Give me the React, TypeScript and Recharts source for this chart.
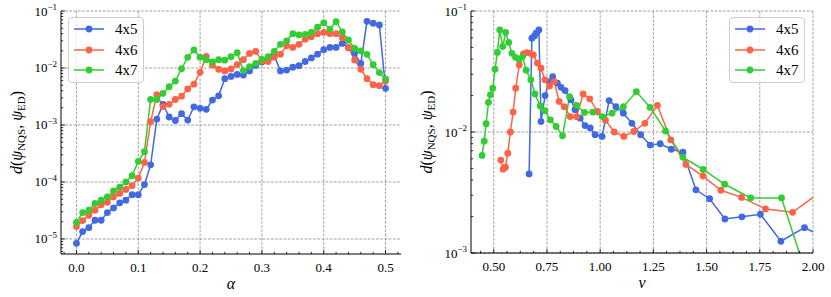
import React from 'react';
import { LineChart, Line, XAxis, YAxis, CartesianGrid, Legend } from 'recharts';

const FONT = "'Liberation Serif', 'DejaVu Serif', serif";
const SERIES = ['4x5', '4x6', '4x7'];
const COLORS = ['#4169e1', '#ff6347', '#32cd32'];

// left panel: distance vs alpha
const ALPHA = [
    0, 0.01, 0.02, 0.03, 0.04, 0.05, 0.06, 0.07, 0.08, 0.09,
    0.1, 0.11, 0.12, 0.13, 0.14, 0.15, 0.16, 0.17, 0.18, 0.19,
    0.2, 0.21, 0.22, 0.23, 0.24, 0.25, 0.26, 0.27, 0.28, 0.29,
    0.3, 0.31, 0.32, 0.33, 0.34, 0.35, 0.36, 0.37, 0.38, 0.39,
    0.4, 0.41, 0.42, 0.43, 0.44, 0.45, 0.46, 0.47, 0.48, 0.49, 0.5,
];
const ALPHA_D_4x5 = [
    8.4e-6, 1.35e-5, 1.58e-5, 2.13e-5, 2.13e-5, 2.9e-5, 3.5e-5, 4.3e-5, 4.8e-5, 6.0e-5,
    6.0e-5, 9.0e-5, 2.0e-4, 1.27e-3, 2.3e-3, 1.38e-3, 1.2e-3, 1.58e-3, 1.22e-3, 2.08e-3,
    1.96e-3, 1.88e-3, 2.74e-3, 3.25e-3, 6.5e-3, 7.1e-3, 7.7e-3, 7.5e-3, 8.9e-3, 1.11e-2,
    1.28e-2, 1.45e-2, 1.65e-2, 8.9e-3, 9.2e-3, 1.03e-2, 1.1e-2, 1.3e-2, 1.5e-2, 1.75e-2,
    2.1e-2, 2.3e-2, 2.3e-2, 2.7e-2, 2.26e-2, 1.8e-2, 1.2e-2, 6.6e-2, 6.1e-2, 5.7e-2, 4.4e-3,
];
const ALPHA_D_4x6 = [
    1.65e-5, 2.1e-5, 2.6e-5, 3.2e-5, 4.0e-5, 4.4e-5, 5.5e-5, 6.3e-5, 7.4e-5, 8.6e-5,
    1.17e-4, 2.2e-4, 1.14e-3, 3.4e-3, 2.1e-3, 2.3e-3, 2.8e-3, 3.2e-3, 4.3e-3, 5.2e-3,
    8.4e-3, 1.6e-2, 1.12e-2, 9.5e-3, 8.9e-3, 9.6e-3, 1.15e-2, 1.4e-2, 1.8e-2, 1.95e-2,
    1.32e-2, 1.3e-2, 1.55e-2, 1.75e-2, 2.45e-2, 2.3e-2, 2.6e-2, 3.2e-2, 3.55e-2, 4.0e-2,
    4.2e-2, 4.0e-2, 4.0e-2, 3.4e-2, 2.3e-2, 1.38e-2, 9.5e-3, 6.5e-3, 5.1e-3, 4.9e-3, 5.9e-3,
];
const ALPHA_D_4x7 = [
    1.95e-5, 2.9e-5, 3.2e-5, 4.2e-5, 4.8e-5, 5.5e-5, 7.0e-5, 8.1e-5, 1.0e-4, 1.29e-4,
    2.3e-4, 3.4e-4, 2.8e-3, 2.8e-3, 3.6e-3, 4.7e-3, 5.9e-3, 9.7e-3, 1.54e-2, 2.07e-2,
    1.54e-2, 1.4e-2, 1.28e-2, 1.4e-2, 1.37e-2, 1.58e-2, 1.86e-2, 9.0e-3, 1.06e-2, 1.2e-2,
    1.42e-2, 1.58e-2, 1.96e-2, 2.6e-2, 3.0e-2, 4.0e-2, 3.8e-2, 3.9e-2, 4.2e-2, 5.2e-2,
    6.2e-2, 4.8e-2, 6.5e-2, 4.3e-2, 3.1e-2, 2.2e-2, 2.0e-2, 1.74e-2, 1.14e-2, 8.3e-3, 6.4e-3,
];

// right panel: distance vs nu
const NU_4x5 = [
    0.666, 0.679, 0.691, 0.699, 0.712, 0.722, 0.741, 0.76, 0.777, 0.799,
    0.816, 0.835, 0.862, 0.882, 0.906, 0.929, 0.953, 0.976, 1.009, 1.042,
    1.074, 1.109, 1.149, 1.19, 1.235, 1.282, 1.334, 1.389, 1.45, 1.514,
    1.586, 1.666, 1.753, 1.849, 1.96, 2.05,
];
const NU_D_4x5 = [
    0.0045, 0.0596, 0.0622, 0.0655, 0.0697, 0.0122, 0.02, 0.0261, 0.0287, 0.0253,
    0.0234, 0.022, 0.0185, 0.0153, 0.013, 0.0113, 0.0108, 0.0095, 0.0092, 0.0182,
    0.0162, 0.0143, 0.0118, 0.0095, 0.0078, 0.008, 0.0072, 0.0068, 0.00333, 0.00281,
    0.00191, 0.00199, 0.00209, 0.00125, 0.00162, 0.00135,
];
const NU_4x6 = [
    0.533, 0.544, 0.555, 0.566, 0.578, 0.591, 0.603, 0.62, 0.639, 0.655,
    0.671, 0.686, 0.705, 0.722, 0.74, 0.762, 0.784, 0.807, 0.831, 0.859,
    0.889, 0.92, 0.951, 0.987, 1.025, 1.066, 1.111, 1.158, 1.21, 1.269,
    1.332, 1.403, 1.483, 1.567, 1.664, 1.777, 1.904, 2.05,
];
const NU_D_4x6 = [
    0.00586, 0.00493, 0.00512, 0.00668, 0.01, 0.0146, 0.023, 0.0358, 0.0441, 0.0453,
    0.0447, 0.0434, 0.0371, 0.0337, 0.027, 0.024, 0.0261, 0.0179, 0.0162, 0.0134,
    0.0134, 0.0206, 0.0188, 0.0148, 0.0125, 0.01, 0.0092, 0.0101, 0.0118, 0.0166,
    0.0086, 0.0054, 0.00432, 0.0033, 0.00288, 0.00231, 0.00217, 0.00333,
];
const NU_4x7 = [
    0.445, 0.455, 0.464, 0.475, 0.484, 0.495, 0.506, 0.517, 0.528, 0.542,
    0.556, 0.57, 0.585, 0.602, 0.619, 0.635, 0.652, 0.674, 0.694, 0.718,
    0.741, 0.766, 0.793, 0.823, 0.856, 0.89, 0.926, 0.965, 1.01, 1.056,
    1.109, 1.17, 1.234, 1.307, 1.388, 1.484, 1.585, 1.707, 1.852, 2.0,
];
const NU_D_4x7 = [
    0.0064, 0.0084, 0.0117, 0.0176, 0.0203, 0.023, 0.033, 0.0455, 0.0697, 0.0508,
    0.0667, 0.055, 0.0447, 0.0414, 0.04, 0.042, 0.0324, 0.027, 0.0206, 0.0164,
    0.015, 0.0126, 0.0111, 0.0093, 0.0196, 0.0166, 0.0145, 0.0146, 0.0134, 0.0143,
    0.0162, 0.0215, 0.016, 0.0102, 0.0062, 0.0049, 0.0037, 0.00285, 0.00285, 0.00045,
];

const ALPHA_TICKS = [0, 0.1, 0.2, 0.3, 0.4, 0.5];
const NU_TICKS = [0.5, 0.75, 1.0, 1.25, 1.5, 1.75, 2.0];
const ALPHA_Y_TICKS = [1e-5, 1e-4, 1e-3, 1e-2, 1e-1];
const NU_Y_TICKS = [1e-3, 1e-2, 1e-1];

const alphaSeries = [ALPHA_D_4x5, ALPHA_D_4x6, ALPHA_D_4x7].map((ys, i) => ({
    name: SERIES[i],
    color: COLORS[i],
    data: ALPHA.map((x, j) => ({ x, y: ys[j] })),
}));
const nuSeries = [
    [NU_4x5, NU_D_4x5],
    [NU_4x6, NU_D_4x6],
    [NU_4x7, NU_D_4x7],
].map(([xs, ys], i) => ({
    name: SERIES[i],
    color: COLORS[i],
    data: xs.map((x, j) => ({ x, y: ys[j] })),
}));

// tick helpers
const linearTicks = (majors: number[], divs: number, lo: number, hi: number) => {
    const step = (majors[1] - majors[0]) / divs;
    const out: number[] = [];
    const start = Math.ceil((lo - majors[0]) / step - 1e-9);
    for (let i = start; majors[0] + i * step <= hi + 1e-9; i++) {
        out.push(+(majors[0] + i * step).toFixed(6));
    }
    return out;
};
const logTicks = (lo: number, hi: number) => {
    const out: number[] = [];
    for (let e = Math.floor(Math.log10(lo)); e <= Math.ceil(Math.log10(hi)); e++) {
        for (let m = 1; m < 10; m++) {
            const v = m * Math.pow(10, e);
            if (v >= lo * (1 - 1e-9) && v <= hi * (1 + 1e-9)) out.push(v);
        }
    }
    return out;
};
const isMajor = (v: number, majors: number[]) =>
    majors.some(m => Math.abs(m - v) <= Math.abs(m) * 1e-6 + 1e-12);

const MAJOR_LEN = 4;
const MINOR_LEN = 2.2;
const TICK_STROKE = { stroke: '#000', strokeWidth: 0.8 };

const bottomTick = (majors: number[], digits: number) => (p: any) => {
    const major = isMajor(p.payload.value, majors);
    return (
        <g>
            <line x1={p.x} x2={p.x} y1={p.y} y2={p.y - (major ? MAJOR_LEN : MINOR_LEN)} {...TICK_STROKE} />
            {major && (
                <text x={p.x} y={p.y + 18} textAnchor="middle" fontSize={13} fontFamily={FONT} fill="#000">
                    {p.payload.value.toFixed(digits)}
                </text>
            )}
        </g>
    );
};
const topTick = (majors: number[]) => (p: any) => {
    const major = isMajor(p.payload.value, majors);
    return <line x1={p.x} x2={p.x} y1={p.y} y2={p.y + (major ? MAJOR_LEN : MINOR_LEN)} {...TICK_STROKE} />;
};
const leftTick = (majors: number[]) => (p: any) => {
    const major = isMajor(p.payload.value, majors);
    const exp = Math.round(Math.log10(p.payload.value));
    return (
        <g>
            <line x1={p.x} x2={p.x + (major ? MAJOR_LEN : MINOR_LEN)} y1={p.y} y2={p.y} {...TICK_STROKE} />
            {major && (
                <text x={p.x - 4} y={p.y + 4.5} textAnchor="end" fontSize={13} fontFamily={FONT} fill="#000">
                    10
                    <tspan dy={-5.5} fontSize={9}>{`\u2212${-exp}`}</tspan>
                </text>
            )}
        </g>
    );
};
const rightTick = (majors: number[]) => (p: any) => {
    const major = isMajor(p.payload.value, majors);
    return <line x1={p.x} x2={p.x - (major ? MAJOR_LEN : MINOR_LEN)} y1={p.y} y2={p.y} {...TICK_STROKE} />;
};

const yLabel = (p: any) => {
    const vb = p.viewBox;
    const cx = vb.x + 17;
    const cy = vb.y + vb.height / 2;
    return (
        <text
            transform={`translate(${cx},${cy}) rotate(-90)`}
            textAnchor="middle"
            dy={5}
            fontSize={16}
            fontFamily={FONT}
            fill="#000"
        >
            <tspan fontStyle="italic">d</tspan>
            <tspan>(</tspan>
            <tspan fontStyle="italic">ψ</tspan>
            <tspan fontSize={11} dy={3}>NQS</tspan>
            <tspan dy={-3}>, </tspan>
            <tspan fontStyle="italic">ψ</tspan>
            <tspan fontSize={11} dy={3}>ED</tspan>
            <tspan dy={-3}>)</tspan>
        </text>
    );
};
const xLabel = (txt: string) => (p: any) => {
    const vb = p.viewBox;
    return (
        <text x={vb.x + vb.width / 2} y={vb.y + 35} textAnchor="middle" fontSize={16} fontStyle="italic" fontFamily={FONT} fill="#000">
            {txt}
        </text>
    );
};

const renderLegend = (props: any) => (
    <div
        style={{
            width: 76,
            height: 66,
            boxSizing: 'border-box',
            border: '1px solid #cccccc',
            borderRadius: 4,
            background: 'rgba(255,255,255,0.8)',
            paddingTop: 1,
            paddingLeft: 5,
        }}
    >
        {props.payload.map((e: any) => (
            <div key={e.value} style={{ display: 'flex', alignItems: 'center', height: 20.5 }}>
                <svg width={30} height={10} style={{ display: 'block' }}>
                    <line x1={0} x2={30} y1={5} y2={5} stroke={e.color} strokeWidth={1.5} />
                    <circle cx={15} cy={5} r={3.4} fill={e.color} />
                </svg>
                <span style={{ marginLeft: 11, fontSize: 15, fontFamily: FONT, color: '#000', lineHeight: '16px' }}>
                    {e.value}
                </span>
            </div>
        ))}
    </div>
);

interface PanelProps {
    width: number;
    marginRight: number;
    xAxisHeight: number;
    xDomain: [number, number];
    yDomain: [number, number];
    xMajor: number[];
    xDivs: number;
    yMajor: number[];
    xDigits: number;
    xName: string;
    series: { name: string; color: string; data: { x: number; y: number }[] }[];
    legendLeft: number;
}

const Panel: React.FC<PanelProps> = ({
    width, marginRight, xAxisHeight, xDomain, yDomain, xMajor, xDivs, yMajor, xDigits, xName, series, legendLeft,
}) => {
    const xTicks = linearTicks(xMajor, xDivs, xDomain[0], xDomain[1]);
    const yTicks = logTicks(yDomain[0], yDomain[1]);
    const axisLine = { stroke: '#000', strokeWidth: 1 };
    return (
        <LineChart width={width} height={297} margin={{ top: 11, right: marginRight, bottom: 0, left: 0 }}>
            <CartesianGrid
                xAxisId="b"
                yAxisId="l"
                verticalValues={xMajor}
                horizontalValues={yMajor}
                stroke="#8a8a8a"
                strokeDasharray="2.8 1.4"
                strokeWidth={0.8}
            />
            <XAxis
                xAxisId="b"
                type="number"
                dataKey="x"
                domain={xDomain}
                allowDataOverflow
                ticks={xTicks}
                interval={0}
                height={xAxisHeight}
                tickSize={0}
                tickMargin={0}
                tickLine={false}
                axisLine={axisLine}
                tick={bottomTick(xMajor, xDigits)}
                label={xLabel(xName)}
            />
            <XAxis
                xAxisId="t"
                orientation="top"
                type="number"
                dataKey="x"
                domain={xDomain}
                allowDataOverflow
                ticks={xTicks}
                interval={0}
                height={0}
                tickSize={0}
                tickMargin={0}
                tickLine={false}
                axisLine={axisLine}
                tick={topTick(xMajor)}
            />
            <YAxis
                yAxisId="l"
                type="number"
                scale="log"
                domain={yDomain}
                allowDataOverflow
                ticks={yTicks}
                interval={0}
                width={61}
                tickSize={0}
                tickMargin={0}
                tickLine={false}
                axisLine={axisLine}
                tick={leftTick(yMajor)}
                label={yLabel}
            />
            <YAxis
                yAxisId="r"
                orientation="right"
                type="number"
                scale="log"
                domain={yDomain}
                allowDataOverflow
                ticks={yTicks}
                interval={0}
                width={0}
                tickSize={0}
                tickMargin={0}
                tickLine={false}
                axisLine={axisLine}
                tick={rightTick(yMajor)}
            />
            <Legend
                layout="vertical"
                align="center"
                verticalAlign="middle"
                content={renderLegend}
                wrapperStyle={{ left: legendLeft, top: 17, width: 76 }}
            />
            {series.map(s => (
                <Line
                    key={s.name}
                    xAxisId="b"
                    yAxisId="l"
                    data={s.data}
                    dataKey="y"
                    name={s.name}
                    stroke={s.color}
                    strokeWidth={1.5}
                    dot={{ r: 3.4, fill: s.color, stroke: s.color, strokeWidth: 0 }}
                    activeDot={false}
                    isAnimationActive={false}
                />
            ))}
        </LineChart>
    );
};

export default function App() {
    return (
        <div style={{ position: 'absolute', left: 0, top: 0, width: 831, height: 297, background: '#fff' }}>
            <div style={{ position: 'absolute', left: 0, top: 0 }}>
                <Panel
                    width={410}
                    marginRight={9}
                    xAxisHeight={43}
                    xDomain={[-0.025, 0.525]}
                    yDomain={[5.45e-6, 0.1]}
                    xMajor={ALPHA_TICKS}
                    xDivs={5}
                    yMajor={ALPHA_Y_TICKS}
                    xDigits={1}
                    xName="α"
                    series={alphaSeries}
                    legendLeft={68}
                />
            </div>
            <div style={{ position: 'absolute', left: 410, top: 0 }}>
                <Panel
                    width={421}
                    marginRight={18}
                    xAxisHeight={44}
                    xDomain={[0.393, 2.0]}
                    yDomain={[1e-3, 0.1]}
                    xMajor={NU_TICKS}
                    xDivs={4}
                    yMajor={NU_Y_TICKS}
                    xDigits={2}
                    xName="ν"
                    series={nuSeries}
                    legendLeft={319}
                />
            </div>
        </div>
    );
}
